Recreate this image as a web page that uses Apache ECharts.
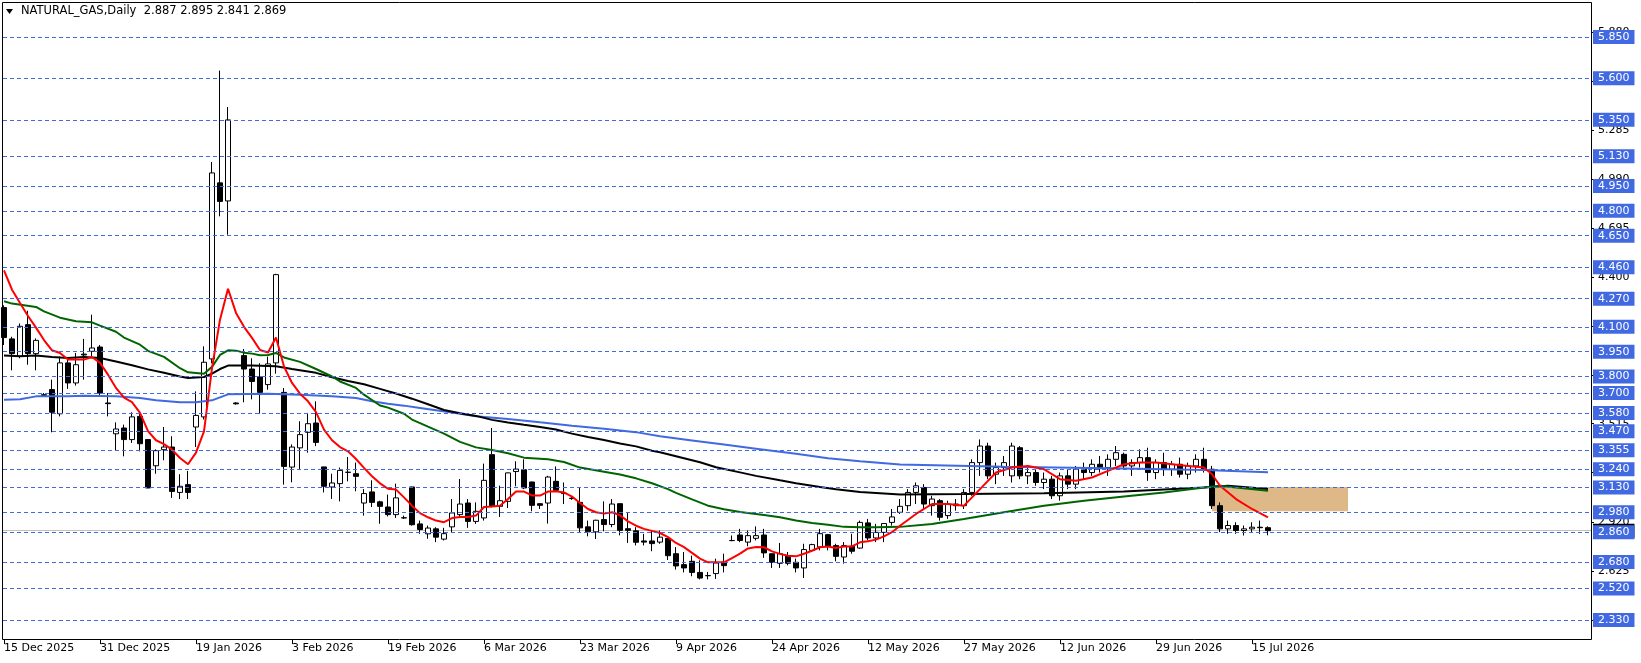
<!DOCTYPE html>
<html><head><meta charset="utf-8">
<script src="https://cdn.jsdelivr.net/npm/echarts@6/dist/echarts.min.js"></script>
<style>html,body{margin:0;padding:0;background:#fff}#c{width:1641px;height:663px}</style>
</head><body><div id="c"></div>
<script>
const chartTitle = 'NATURAL_GAS,Daily';
const lastQuote = [2.887, 2.895, 2.841, 2.869];
const dateLabels = ['15 Dec 2025','31 Dec 2025','19 Jan 2026','3 Feb 2026','19 Feb 2026','6 Mar 2026','23 Mar 2026','9 Apr 2026','24 Apr 2026','12 May 2026','27 May 2026','12 Jun 2026','29 Jun 2026','15 Jul 2026'];
const dateLabelBars = [0,12,24,36,48,60,72,84,96,108,120,132,144,156];

const opens = [4.216,4.027,3.922,4.113,3.938,3.69,3.721,3.575,3.882,3.761,3.935,3.952,3.978,3.64,3.454,3.489,3.419,3.559,3.419,3.261,
3.358,3.374,3.10,3.147,3.495,3.556,3.906,4.969,4.86,3.64,3.926,3.845,3.797,3.751,3.882,3.704,3.253,3.369,3.463,3.519,
3.254,3.133,3.153,3.221,3.213,3.036,3.103,3.043,3.012,2.966,2.947,3.133,2.91,2.85,2.88,2.818,2.892,2.966,3.036,2.925,
2.946,3.328,3.016,3.046,3.226,3.237,3.163,3.032,3.036,3.167,3.095,3.065,3.04,2.892,2.862,2.936,2.906,3.032,2.881,2.868,
2.807,2.807,2.80,2.822,2.73,2.664,2.684,2.617,2.598,2.61,2.678,2.81,2.843,2.80,2.823,2.843,2.73,2.672,2.719,2.678,
2.644,2.75,2.771,2.845,2.779,2.71,2.775,2.764,2.916,2.825,2.859,2.919,2.98,3.02,3.10,3.13,3.02,3.05,2.96,3.03,
3.02,3.10,3.28,3.38,3.21,3.25,3.20,3.37,3.20,3.22,3.16,3.18,3.08,3.20,3.15,3.24,3.22,3.27,3.25,3.30,
3.33,3.26,3.28,3.31,3.22,3.28,3.24,3.27,3.21,3.26,3.30,3.24,3.02,2.88,2.90,2.87,2.88,2.89,2.887];
const highs = [4.23,4.04,4.12,4.197,4.03,3.70,3.781,3.92,3.912,3.942,4.027,4.173,3.99,3.70,3.523,3.509,3.584,3.584,3.42,3.36,
3.495,3.439,3.21,3.23,3.71,3.982,5.095,5.647,5.427,3.645,3.966,3.91,3.88,3.92,4.42,3.73,3.39,3.53,3.58,3.65,
3.255,3.213,3.25,3.314,3.28,3.12,3.173,3.05,3.087,3.153,2.96,3.135,2.93,2.90,2.89,2.886,3.06,3.181,3.06,3.04,
3.274,3.489,3.141,3.22,3.288,3.30,3.165,3.035,3.20,3.257,3.16,3.08,3.127,2.93,2.935,3.046,3.06,3.035,2.976,2.89,
2.85,2.87,2.87,2.822,2.77,2.74,2.718,2.69,2.62,2.70,2.73,2.84,2.88,2.87,2.895,2.88,2.73,2.795,2.74,2.70,
2.79,2.79,2.88,2.85,2.79,2.80,2.85,2.93,2.94,2.91,2.912,3.0,3.06,3.12,3.16,3.15,3.08,3.06,3.05,3.06,
3.12,3.30,3.42,3.40,3.28,3.32,3.40,3.38,3.26,3.24,3.22,3.20,3.22,3.24,3.26,3.28,3.30,3.32,3.33,3.38,
3.34,3.30,3.36,3.37,3.30,3.34,3.29,3.31,3.28,3.33,3.37,3.26,3.04,2.93,2.92,2.90,2.92,2.93,2.895];
const lows = [3.99,3.837,3.91,3.871,3.837,3.68,3.463,3.559,3.725,3.745,3.781,3.92,3.684,3.559,3.354,3.318,3.399,3.348,3.125,3.213,
3.294,3.067,3.06,3.06,3.374,3.54,3.88,4.767,4.656,3.63,3.644,3.662,3.576,3.72,3.817,3.147,3.161,3.24,3.34,3.38,
3.10,3.061,3.046,3.167,3.107,2.96,3.012,2.911,2.955,2.946,2.94,2.90,2.85,2.82,2.80,2.81,2.86,2.95,2.886,2.91,
2.93,3.01,2.952,3.006,3.137,3.12,2.986,3.00,2.912,3.107,3.03,3.055,2.855,2.835,2.819,2.865,2.89,2.841,2.795,2.78,
2.78,2.745,2.79,2.692,2.634,2.617,2.594,2.575,2.575,2.578,2.617,2.805,2.80,2.775,2.81,2.705,2.644,2.644,2.66,2.617,
2.583,2.745,2.75,2.75,2.684,2.67,2.73,2.76,2.81,2.80,2.80,2.90,2.97,2.99,3.03,3.00,2.96,2.93,2.94,2.99,
3.00,3.08,3.20,3.18,3.15,3.20,3.16,3.18,3.15,3.14,3.12,3.06,3.05,3.12,3.12,3.18,3.20,3.22,3.20,3.26,
3.24,3.20,3.25,3.17,3.18,3.20,3.20,3.19,3.18,3.22,3.22,3.00,2.86,2.85,2.85,2.84,2.86,2.85,2.841];
const closes = [4.035,3.938,4.103,3.938,4.018,3.685,3.584,3.882,3.761,3.871,3.93,3.972,3.70,3.636,3.483,3.419,3.556,3.394,3.127,3.352,
3.374,3.106,3.137,3.10,3.565,3.886,5.029,4.857,5.349,3.635,3.845,3.77,3.704,3.876,4.415,3.257,3.374,3.449,3.515,3.402,
3.137,3.157,3.233,3.222,3.197,3.093,3.04,3.016,2.966,3.067,2.946,2.905,2.876,2.885,2.83,2.851,2.976,3.03,2.925,2.986,
3.173,3.02,3.05,3.218,3.241,3.127,3.022,3.022,3.193,3.113,3.093,3.063,2.886,2.862,2.932,2.906,3.03,2.871,2.871,2.799,
2.80,2.791,2.83,2.718,2.656,2.644,2.617,2.583,2.597,2.674,2.658,2.809,2.81,2.839,2.839,2.735,2.678,2.73,2.672,2.644,
2.755,2.785,2.851,2.775,2.714,2.779,2.745,2.919,2.825,2.859,2.912,2.952,3.016,3.10,3.14,3.03,3.06,2.95,3.03,3.02,
3.10,3.28,3.38,3.20,3.25,3.28,3.38,3.20,3.22,3.16,3.18,3.08,3.20,3.15,3.24,3.22,3.27,3.25,3.30,3.34,
3.26,3.28,3.31,3.22,3.28,3.24,3.27,3.21,3.26,3.30,3.24,3.02,2.88,2.90,2.87,2.88,2.89,2.887,2.869];

const levelLines = [5.85,5.6,5.35,5.13,4.95,4.8,4.65,4.46,4.27,4.1,3.95,3.8,3.7,3.58,3.47,3.355,3.24,3.13,2.98,2.86,2.68,2.52,2.33];
const scaleLabels = [5.88,5.585,5.285,4.99,4.695,4.4,4.105,3.81,3.515,3.22,2.92,2.625,2.33];
const bidPrice = 2.869;
const zoneBox = {fromBar:151, toBar:168, low:2.986, high:3.133};

const maRed = [[0,4.44],[1,4.324],[2,4.244],[3,4.165],[4,4.095],[5,4.02],[6,3.958],[7,3.942],[8,3.902],[10,3.902],[11,3.918],[12,3.882],[13,3.811],[14,3.731],[15,3.672],[16,3.645],[17,3.58],[18,3.47],[19,3.415],[20,3.392],[21,3.358],[22,3.308],[23,3.27],[24,3.34],[25,3.469],[26,3.85],[27,4.143],[28,4.33],[29,4.184],[30,4.1],[31,4.033],[32,3.96],[33,3.945],[34,4.035],[35,3.86],[36,3.761],[37,3.696],[38,3.65],[39,3.585],[40,3.479],[41,3.415],[42,3.374],[43,3.348],[44,3.302],[45,3.248],[46,3.198],[47,3.155],[48,3.122],[49,3.117],[50,3.07],[51,3.02],[52,2.975],[53,2.95],[54,2.93],[55,2.92],[56,2.945],[57,2.952],[58,2.952],[59,2.96],[60,3.012],[61,3.015],[62,3.02],[63,3.06],[64,3.105],[65,3.105],[66,3.082],[67,3.081],[68,3.105],[69,3.107],[70,3.1],[71,3.075],[72,3.036],[73,3.0],[74,2.98],[75,2.972],[76,2.98],[77,2.962],[78,2.925],[79,2.899],[80,2.88],[81,2.868],[82,2.855],[83,2.83],[84,2.795],[85,2.77],[86,2.735],[87,2.70],[88,2.678],[90,2.678],[91,2.704],[92,2.73],[93,2.762],[94,2.771],[95,2.769],[96,2.744],[97,2.729],[98,2.718],[99,2.714],[100,2.73],[101,2.748],[102,2.769],[103,2.774],[104,2.765],[105,2.774],[106,2.774],[107,2.799],[108,2.805],[109,2.815],[110,2.835],[111,2.86],[112,2.899],[114,2.97],[116,3.03],[118,3.03],[120,3.02],[122,3.12],[124,3.22],[126,3.25],[128,3.26],[130,3.24],[132,3.18],[134,3.17],[136,3.19],[138,3.23],[140,3.27],[142,3.28],[144,3.28],[146,3.27],[148,3.26],[150,3.25],[151,3.21],[152,3.14],[154,3.06],[156,3.0],[158,2.95]];
const maGreen = [[0,4.254],[1,4.24],[4,4.22],[5,4.193],[7,4.155],[9,4.133],[11,4.127],[12,4.107],[14,4.07],[15,4.035],[17,3.992],[18,3.955],[20,3.918],[22,3.85],[23,3.825],[25,3.817],[26,3.858],[27,3.93],[28,3.958],[29,3.956],[30,3.944],[31,3.938],[32,3.928],[33,3.93],[34,3.942],[35,3.915],[37,3.888],[39,3.845],[41,3.80],[42,3.77],[44,3.731],[45,3.69],[47,3.625],[48,3.612],[50,3.575],[51,3.54],[53,3.497],[55,3.455],[57,3.405],[59,3.372],[61,3.356],[63,3.336],[65,3.31],[68,3.30],[70,3.284],[72,3.25],[75,3.225],[77,3.208],[79,3.185],[81,3.155],[83,3.12],[84,3.097],[86,3.058],[88,3.02],[90,2.998],[92,2.982],[95,2.964],[97,2.95],[99,2.93],[101,2.915],[103,2.905],[105,2.892],[107,2.89],[109,2.89],[112,2.892],[116,2.91],[120,2.94],[125,2.98],[130,3.02],[135,3.05],[140,3.075],[145,3.10],[150,3.13],[152,3.14],[154,3.13],[158,3.11]];
const maBlack = [[0,3.926],[2,3.922],[4,3.926],[6,3.918],[8,3.912],[10,3.918],[12,3.912],[14,3.891],[16,3.868],[18,3.843],[20,3.822],[22,3.80],[23,3.791],[25,3.797],[26,3.817],[27,3.845],[28,3.866],[31,3.866],[34,3.862],[36,3.845],[39,3.822],[41,3.795],[43,3.773],[45,3.753],[47,3.725],[49,3.697],[51,3.666],[53,3.632],[55,3.598],[57,3.578],[59,3.562],[61,3.538],[63,3.522],[65,3.508],[67,3.495],[69,3.48],[71,3.455],[73,3.435],[75,3.416],[77,3.396],[79,3.378],[81,3.352],[82,3.342],[84,3.318],[87,3.282],[89,3.252],[92,3.221],[94,3.2],[97,3.173],[99,3.156],[102,3.133],[104,3.119],[107,3.103],[109,3.097],[112,3.087],[120,3.09],[130,3.095],[140,3.105],[150,3.13],[153,3.14],[158,3.12]];
const maBlue = [[0,3.66],[2,3.662],[4,3.68],[8,3.68],[10,3.684],[14,3.68],[17,3.67],[19,3.656],[22,3.644],[24,3.644],[26,3.656],[28,3.692],[33,3.696],[37,3.69],[41,3.68],[44,3.67],[46,3.65],[48,3.636],[50,3.624],[52,3.61],[54,3.596],[56,3.582],[59,3.56],[63,3.544],[67,3.523],[71,3.503],[75,3.484],[79,3.464],[82,3.439],[86,3.414],[90,3.389],[94,3.364],[99,3.333],[103,3.307],[107,3.288],[112,3.268],[125,3.255],[140,3.245],[150,3.235],[158,3.222]];

const FONT = 'DejaVu Sans';
const candleData = opens.map((o, i) => [i, o, closes[i], lows[i], highs[i]]);

const chart = echarts.init(document.getElementById('c'), null, {renderer: 'canvas'});
const maSeries = (name, data, color) => ({
  name, type: 'line', data, symbol: 'none', z: 4, silent: true,
  lineStyle: {color, width: 2}, animation: false
});

chart.setOption({
  animation: false,
  backgroundColor: '#ffffff',
  grid: {left: 3, top: 3, width: 1588, height: 636, containLabel: false},
  xAxis: {
    type: 'value', min: -0.125, max: 198.375,
    splitLine: {show: false}, axisLine: {show: false, onZero: false},
    axisTick: {show: true, length: 5, customValues: dateLabelBars, lineStyle: {color: '#000'}},
    axisLabel: {customValues: dateLabelBars, align: 'left', margin: 4, color: '#000',
      fontFamily: FONT, fontSize: 11,
      formatter: v => dateLabels[dateLabelBars.indexOf(Math.round(v))] || ''}
  },
  yAxis: {
    type: 'value', position: 'right', min: 2.215, max: 6.055,
    splitLine: {show: false}, axisLine: {show: false, onZero: false},
    axisTick: {show: true, length: 3, customValues: scaleLabels, lineStyle: {color: '#000'}},
    axisLabel: {customValues: scaleLabels, margin: 7, color: '#000', fontFamily: FONT, fontSize: 11,
      formatter: v => v.toFixed(3)}
  },
  series: [
    {
      type: 'line', data: [], z: 1, silent: true,
      markArea: {silent: true, itemStyle: {color: '#DEB887'},
        data: [[{xAxis: zoneBox.fromBar, yAxis: zoneBox.high}, {xAxis: zoneBox.toBar, yAxis: zoneBox.low}]]},
      markLine: {silent: true, symbol: ['none', 'none'], animation: false, precision: 3, z: 1,
        lineStyle: {color: '#C0C0C0', type: 'solid', width: 1},
        label: {position: 'end', distance: 2, formatter: p => Number(p.value).toFixed(3), backgroundColor: '#000',
          color: '#fff', fontFamily: FONT, fontSize: 11, padding: [1, 5, 0, 5], lineHeight: 13},
        data: [{yAxis: bidPrice}]}
    },
    {
      type: 'candlestick', data: candleData, barWidth: 5, z: 3, silent: true,
      encode: {x: 0, y: [1, 2, 3, 4]},
      itemStyle: {color: '#ffffff', color0: '#000000', borderColor: '#000000', borderColor0: '#000000', borderWidth: 1},
      markLine: {silent: true, symbol: ['none', 'none'], animation: false, precision: 3, z: 5,
        lineStyle: {color: '#4169E1', type: [4, 3], width: 1},
        label: {position: 'end', distance: 2, formatter: p => Number(p.value).toFixed(3), backgroundColor: '#4169E1',
          color: '#fff', fontFamily: FONT, fontSize: 11, padding: [1, 5, 0, 5], lineHeight: 13},
        data: levelLines.map(v => ({yAxis: v}))}
    },
    maSeries('blue', maBlue, '#4169E1'),
    maSeries('black', maBlack, '#000000'),
    maSeries('green', maGreen, '#006400'),
    maSeries('red', maRed, '#FF0000')
  ],
  graphic: [
    {type: 'rect', silent: true, z: 100, shape: {x: 2.5, y: 2.5, width: 1589, height: 637},
      style: {fill: 'none', stroke: '#000', lineWidth: 1}},
    {type: 'polygon', silent: true, z: 100, shape: {points: [[6, 9], [13, 9], [9.5, 14]]}, style: {fill: '#000'}},
    {type: 'text', silent: true, z: 100, left: 21, top: 5,
      style: {text: chartTitle + '  ' + lastQuote.map(v => v.toFixed(3)).join(' '),
        fill: '#000', font: '11.5px "DejaVu Sans"'}}
  ]
});
</script></body></html>
